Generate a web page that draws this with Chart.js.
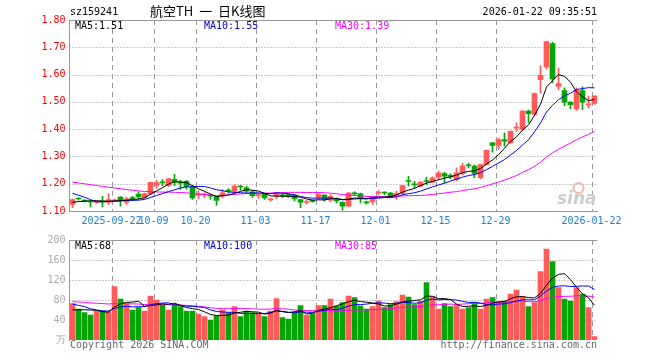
<!DOCTYPE html>
<html>
<head>
<meta charset="utf-8">
<script src="https://cdn.jsdelivr.net/npm/chart.js@4.4.1/dist/chart.umd.min.js"></script>
<style>
body { margin: 0; background: #fff; }
#wrap { position: relative; width: 660px; height: 360px; font-family: "DejaVu Sans Mono", monospace; font-size: 10px; }
#wrap canvas { position: absolute; left: 0; }
.t { position: absolute; white-space: nowrap; line-height: 12px; }
</style>
</head>
<body>
<div id="wrap">
  <canvas id="kChart" width="660" height="232" style="top:0"></canvas>
  <canvas id="volChart" width="660" height="130" style="top:230px"></canvas>

  <div class="t" style="left:70px;top:6px;color:#000">sz159241</div>
  <div class="t" style="left:150px;top:3px;font:13px/15px 'Noto Sans CJK SC';color:#000;word-spacing:3px">航空TH 一 日K线图</div>
  <div class="t" style="right:63px;top:6px;color:#000">2026-01-22 09:35:51</div>

  <div class="t" style="left:75px;top:20px;color:#000">MA5:1.51</div>
  <div class="t" style="left:204px;top:20px;color:#0000cc">MA10:1.55</div>
  <div class="t" style="left:335px;top:20px;color:#ff00ff">MA30:1.39</div>

  <div class="t" style="left:75px;top:240px;color:#000">MA5:68</div>
  <div class="t" style="left:204px;top:240px;color:#0000cc">MA10:100</div>
  <div class="t" style="left:335px;top:240px;color:#ff00ff">MA30:85</div>

  <div class="t" style="left:70px;top:339px;color:#666">Copyright 2026 SINA.COM</div>
  <div class="t" style="right:63px;top:339px;color:#666">http://finance.sina.com.cn</div>
</div>

<script>
// trading days shown on the chart
const dates = [
  '2025-09-11','2025-09-12','2025-09-15','2025-09-16','2025-09-17','2025-09-18','2025-09-19',
  '2025-09-22','2025-09-23','2025-09-24','2025-09-25','2025-09-26','2025-09-29','2025-09-30',
  '2025-10-09','2025-10-10','2025-10-13','2025-10-14','2025-10-15','2025-10-16','2025-10-17',
  '2025-10-20','2025-10-21','2025-10-22','2025-10-23','2025-10-24','2025-10-27','2025-10-28',
  '2025-10-29','2025-10-30','2025-10-31',
  '2025-11-03','2025-11-04','2025-11-05','2025-11-06','2025-11-07','2025-11-10','2025-11-11',
  '2025-11-12','2025-11-13','2025-11-14','2025-11-17','2025-11-18','2025-11-19','2025-11-20',
  '2025-11-21','2025-11-24','2025-11-25','2025-11-26','2025-11-27','2025-11-28',
  '2025-12-01','2025-12-02','2025-12-03','2025-12-04','2025-12-05','2025-12-08','2025-12-09',
  '2025-12-10','2025-12-11','2025-12-12','2025-12-15','2025-12-16','2025-12-17','2025-12-18',
  '2025-12-19','2025-12-22','2025-12-23','2025-12-24','2025-12-25','2025-12-26','2025-12-29',
  '2025-12-30','2025-12-31',
  '2026-01-05','2026-01-06','2026-01-07','2026-01-08','2026-01-09','2026-01-12','2026-01-13',
  '2026-01-14','2026-01-15','2026-01-16','2026-01-19','2026-01-20','2026-01-21','2026-01-22'
];

const tickDates = ['2025-09-22','2025-10-09','2025-10-20','2025-11-03','2025-11-17','2025-12-01','2025-12-15','2025-12-29','2026-01-22'];
const tickTexts = ['2025-09-22','10-09','10-20','11-03','11-17','12-01','12-15','12-29','2026-01-22'];

const opens = [
  1.124,1.145,1.138,1.136,1.131,1.137,1.131,1.137,1.151,1.131,
  1.149,1.162,1.150,1.163,1.194,1.205,1.193,1.216,1.205,1.209,
  1.189,1.158,1.158,1.157,1.152,1.154,1.176,1.173,1.190,1.185,
  1.170,1.155,1.163,1.141,1.154,1.158,1.161,1.158,1.142,1.131,
  1.137,1.148,1.158,1.140,1.145,1.132,1.118,1.166,1.164,1.132,
  1.133,1.166,1.168,1.166,1.158,1.164,1.210,1.198,1.191,1.211,
  1.206,1.225,1.237,1.229,1.215,1.238,1.268,1.265,1.222,1.270,
  1.350,1.340,1.362,1.350,1.404,1.399,1.466,1.454,1.581,1.628,
  1.714,1.557,1.541,1.499,1.474,1.541,1.489,1.494
];
const highs = [
  1.144,1.148,1.141,1.139,1.136,1.154,1.163,1.145,1.153,1.151,
  1.154,1.170,1.166,1.206,1.212,1.215,1.220,1.234,1.212,1.212,
  1.194,1.173,1.167,1.160,1.154,1.179,1.182,1.197,1.194,1.191,
  1.175,1.165,1.165,1.146,1.167,1.164,1.163,1.160,1.143,1.139,
  1.140,1.166,1.160,1.160,1.148,1.134,1.168,1.170,1.166,1.136,
  1.146,1.175,1.170,1.168,1.173,1.195,1.227,1.209,1.208,1.224,
  1.225,1.246,1.242,1.236,1.258,1.275,1.276,1.268,1.272,1.324,
  1.352,1.366,1.386,1.394,1.423,1.468,1.470,1.532,1.632,1.723,
  1.718,1.624,1.551,1.501,1.551,1.555,1.521,1.523
];
const lows = [
  1.112,1.140,1.133,1.115,1.128,1.115,1.124,1.134,1.118,1.124,
  1.138,1.145,1.146,1.160,1.183,1.193,1.190,1.193,1.180,1.180,
  1.142,1.145,1.148,1.142,1.120,1.148,1.165,1.166,1.176,1.164,
  1.150,1.146,1.142,1.136,1.145,1.150,1.150,1.137,1.112,1.126,
  1.132,1.142,1.136,1.133,1.130,1.103,1.115,1.156,1.130,1.125,
  1.124,1.160,1.160,1.150,1.142,1.160,1.191,1.185,1.188,1.197,
  1.203,1.215,1.203,1.218,1.209,1.232,1.258,1.222,1.218,1.268,
  1.316,1.326,1.338,1.348,1.392,1.396,1.425,1.450,1.532,1.620,
  1.569,1.545,1.486,1.474,1.469,1.471,1.477,1.491
];
const closes = [
  1.142,1.144,1.136,1.133,1.134,1.133,1.142,1.140,1.138,1.145,
  1.144,1.152,1.163,1.205,1.204,1.203,1.218,1.206,1.202,1.189,
  1.148,1.160,1.161,1.154,1.139,1.167,1.173,1.191,1.188,1.173,
  1.156,1.158,1.148,1.143,1.166,1.156,1.155,1.145,1.132,1.133,
  1.135,1.160,1.142,1.154,1.137,1.118,1.166,1.163,1.145,1.130,
  1.145,1.169,1.166,1.152,1.164,1.193,1.208,1.196,1.206,1.208,
  1.222,1.240,1.228,1.227,1.240,1.265,1.266,1.238,1.270,1.322,
  1.340,1.362,1.356,1.392,1.407,1.466,1.457,1.530,1.597,1.721,
  1.584,1.567,1.499,1.490,1.542,1.499,1.492,1.521
];
// volume, 万
const volumes = [
  73,62,55,50,58,58,57,107,82,73,
  60,65,58,88,80,70,60,70,67,58,
  58,52,47,40,48,60,55,67,47,58,
  55,52,47,58,83,45,42,55,69,50,
  53,69,69,82,68,75,88,85,68,62,
  67,78,65,71,77,90,86,71,78,115,
  87,62,73,67,71,62,65,75,62,82,
  85,77,78,92,100,87,67,75,137,182,
  157,105,82,78,105,92,65,7
];

// sessions before the visible window (off screen), only used to start the moving averages
const priorCloses = [
  1.228,1.232,1.225,1.230,1.236,1.229,1.222,1.226,1.231,1.224,
  1.220,1.227,1.233,1.226,1.219,1.223,1.228,1.221,1.225,1.218,
  1.215,1.208,1.221,1.212,1.135,1.128,1.132,1.126,1.130
];
const priorVolumes = [
  82,76,88,71,79,85,74,80,92,68,
  77,83,75,81,70,86,79,73,84,77,
  90,78,95,82,75,60,55,52,60
];

const UP = '#ff5a5a';
const DOWN = '#06a406';
const MA_COLORS = { ma5: '#000000', ma10: '#0000ff', ma30: '#ff00ff' };
const MONO = '"DejaVu Sans Mono", monospace';
const GRID = '#999999';

function movingAvg(values, n, skip) {
  const out = [];
  for (let i = skip; i < values.length; i++) {
    if (i < n - 1) { out.push(null); continue; }
    let s = 0;
    for (let k = i - n + 1; k <= i; k++) s += values[k];
    out.push(s / n);
  }
  return out;
}

const barColors = closes.map((c, i) => c >= opens[i] ? UP : DOWN);
const allCloses = priorCloses.concat(closes);
const allVols = priorVolumes.concat(volumes);
const skip = priorCloses.length;

function lineSet(data, color) {
  return {
    type: 'line', data, borderColor: color, borderWidth: 1,
    pointRadius: 0, tension: 0, fill: false, order: 0
  };
}

function xScale(showLabels) {
  return {
    type: 'category',
    offset: true,
    grid: { display: false, offset: true, drawTicks: false },
    border: { display: showLabels, color: '#999999' },
    ticks: {
      display: showLabels,
      autoSkip: false,
      maxRotation: 0,
      padding: 4,
      labelOffset: -3,
      color: '#1a7fd0',
      font: { family: MONO, size: 10 },
      callback: (v, i) => {
        const k = tickDates.indexOf(dates[i]);
        return k >= 0 ? tickTexts[k] : '';
      }
    },
    afterFit: s => { s.height = showLabels ? 21 : 20; }
  };
}

// dotted value lines, dashed date lines (at the left edge of each labelled session), solid top edge
const gridPlugin = {
  id: 'gridLines',
  beforeDatasetsDraw(chart) {
    const { ctx, chartArea: a, scales: { x, y } } = chart;
    ctx.save();
    ctx.strokeStyle = GRID;
    ctx.lineWidth = 1;
    ctx.setLineDash([1, 2]);
    y.ticks.forEach(t => {
      if (t.value <= y.min || t.value >= y.max) return;
      const py = Math.round(y.getPixelForValue(t.value)) + 0.5;
      ctx.beginPath(); ctx.moveTo(a.left, py); ctx.lineTo(a.right, py); ctx.stroke();
    });
    ctx.setLineDash([5, 4]);
    const half = (x.getPixelForValue(1) - x.getPixelForValue(0)) / 2;
    tickDates.forEach(d => {
      const px = Math.round(x.getPixelForValue(dates.indexOf(d)) - half) + 0.5;
      ctx.beginPath(); ctx.moveTo(px, a.top); ctx.lineTo(px, a.bottom); ctx.stroke();
    });
    ctx.setLineDash([]);
    ctx.strokeStyle = '#999999';
    ctx.beginPath();
    ctx.moveTo(a.left, Math.round(a.top) + 0.5);
    ctx.lineTo(a.right, Math.round(a.top) + 0.5);
    ctx.stroke();
    ctx.restore();
  }
};

const watermark = {
  id: 'watermark',
  beforeDatasetsDraw(chart) {
    const { ctx, chartArea } = chart;
    ctx.save();
    ctx.fillStyle = '#cdcdcd';
    ctx.font = 'italic bold 17px "DejaVu Sans"';
    ctx.textAlign = 'right';
    ctx.textBaseline = 'alphabetic';
    ctx.fillText('sina', chartArea.right - 1, 204);
    ctx.strokeStyle = '#f2b5b5';
    ctx.lineWidth = 2;
    ctx.beginPath();
    ctx.arc(chartArea.right - 19, 188, 5, 0, Math.PI * 2);
    ctx.stroke();
    ctx.restore();
  }
};

Chart.defaults.font.family = MONO;

new Chart(document.getElementById('kChart'), {
  type: 'bar',
  data: {
    labels: dates,
    datasets: [
      lineSet(movingAvg(allCloses, 5, skip), MA_COLORS.ma5),
      lineSet(movingAvg(allCloses, 10, skip), MA_COLORS.ma10),
      lineSet(movingAvg(allCloses, 30, skip), MA_COLORS.ma30),
      {
        label: 'body', data: opens.map((o, i) => [o, closes[i]]),
        backgroundColor: barColors, barThickness: 5, grouped: false,
        minBarLength: 1, order: 1
      },
      {
        label: 'wick', data: lows.map((l, i) => [l, highs[i]]),
        backgroundColor: barColors, barThickness: 1, grouped: false, order: 2
      }
    ]
  },
  options: {
    responsive: false,
    animation: false,
    devicePixelRatio: 1,
    layout: { padding: { top: 20, right: 62.5, left: 0, bottom: 0 } },
    plugins: { legend: { display: false }, tooltip: { enabled: false } },
    scales: {
      x: xScale(true),
      y: {
        min: 1.1, max: 1.8,
        grid: { display: false, drawTicks: false },
        border: { color: '#999999' },
        ticks: {
          stepSize: 0.1, padding: 4, color: '#ff0000',
          font: { family: MONO, size: 10 },
          callback: v => v.toFixed(2)
        },
        afterFit: s => { s.width = 69.5; }
      }
    }
  },
  plugins: [gridPlugin, watermark]
});

new Chart(document.getElementById('volChart'), {
  type: 'bar',
  data: {
    labels: dates,
    datasets: [
      lineSet(movingAvg(allVols, 5, skip), MA_COLORS.ma5),
      lineSet(movingAvg(allVols, 10, skip), MA_COLORS.ma10),
      lineSet(movingAvg(allVols, 30, skip), MA_COLORS.ma30),
      {
        label: 'volume', data: volumes, backgroundColor: barColors,
        barThickness: 5, order: 1
      }
    ]
  },
  options: {
    responsive: false,
    animation: false,
    devicePixelRatio: 1,
    layout: { padding: { top: 10, right: 62.5, left: 0, bottom: 0 } },
    plugins: { legend: { display: false }, tooltip: { enabled: false } },
    scales: {
      x: xScale(false),
      y: {
        min: 0, max: 200,
        grid: { display: false, drawTicks: false },
        border: { color: '#999999' },
        ticks: {
          stepSize: 40, padding: 4, color: '#aaaaaa',
          font: { family: MONO, size: 10 },
          callback: v => v === 0 ? '万' : String(v)
        },
        afterFit: s => { s.width = 69.5; }
      }
    }
  },
  plugins: [gridPlugin]
});
</script>
</body>
</html>
